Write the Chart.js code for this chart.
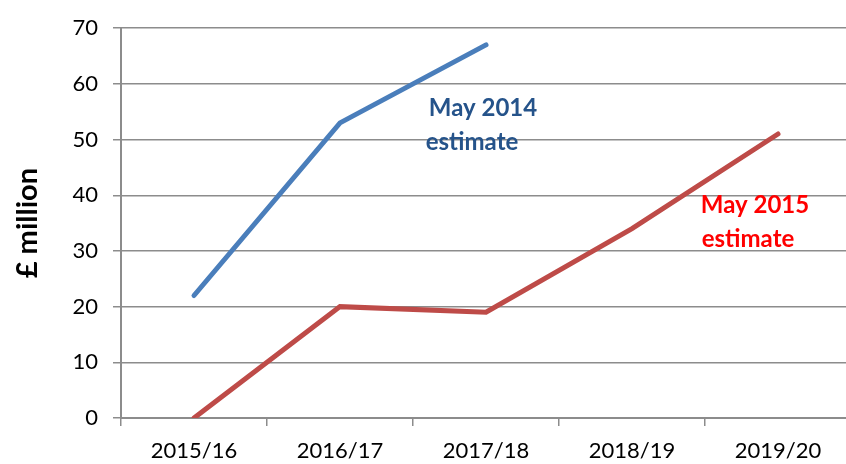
<!DOCTYPE html>
<html>
<head>
<meta charset="utf-8">
<script src="https://cdn.jsdelivr.net/npm/chart.js@4"></script>
<style>
  html, body { margin: 0; padding: 0; background: #fff; }
  #wrap { width: 846px; height: 464px; overflow: hidden; }
</style>
</head>
<body>
<div id="wrap"><canvas id="lineChart" width="851" height="464"></canvas></div>
<script>
const years = ["2015/16", "2016/17", "2017/18", "2018/19", "2019/20"];
const may2014 = [22, 53, 67, null, null];
const may2015 = [0, 20, 19, 34, 51];
const yTicks = [0, 10, 20, 30, 40, 50, 60, 70];

const FONT = "Lato, 'Open Sans', sans-serif";

/* ── series labels drawn next to the lines ── */
const seriesNotes = {
  id: "seriesNotes",
  afterDatasetsDraw(chart) {
    const { ctx, scales } = chart;
    const notes = [
      { lines: ["May 2014", "estimate"], cat: 2, dx: [-3, -14], val: 55.7, color: "#25538a" },
      { lines: ["May 2015", "estimate"], cat: 4, dx: [-23, -30], val: 38.2, color: "#ff0000" },
    ];
    ctx.save();
    ctx.font = "bold 24px " + FONT;
    ctx.textAlign = "center";
    ctx.textBaseline = "middle";
    notes.forEach((n) => {
      const x = scales.x.getPixelForValue(n.cat);
      const y = scales.y.getPixelForValue(n.val);
      ctx.fillStyle = n.color;
      n.lines.forEach((t, i) => ctx.fillText(t, x + n.dx[i], y + i * 34));
    });
    ctx.restore();
  },
};

new Chart(document.getElementById("lineChart"), {
  type: "line",
  data: {
    labels: years,
    datasets: [
      {
        label: "May 2014 estimate",
        data: may2014,
        borderColor: "#4a7ebb",
        borderWidth: 5,
        borderCapStyle: "round",
        pointRadius: 0,
        tension: 0,
      },
      {
        label: "May 2015 estimate",
        data: may2015,
        borderColor: "#be4b48",
        borderWidth: 5,
        borderCapStyle: "round",
        pointRadius: 0,
        tension: 0,
      },
    ],
  },
  options: {
    responsive: false,
    animation: false,
    layout: { padding: { top: 26, right: 0, left: 0, bottom: 0 } },
    plugins: { legend: { display: false }, tooltip: { enabled: false } },
    scales: {
      x: {
        offset: true,
        grid: {
          offset: true,
          drawOnChartArea: false,
          color: "#8c8c8c",
          lineWidth: 1.5,
          tickLength: 8,
        },
        border: { color: "#8c8c8c", width: 2 },
        ticks: { color: "#000", font: { family: FONT, size: 22 }, padding: 12, maxRotation: 0 },
        afterFit: (s) => { s.height = 46; },
      },
      y: {
        min: 0,
        max: 70,
        afterBuildTicks: (s) => { s.ticks = yTicks.map((v) => ({ value: v })); },
        grid: { color: "#8c8c8c", lineWidth: 1.5, tickLength: 8 },
        border: { color: "#8c8c8c", width: 2 },
        ticks: { color: "#000", font: { family: FONT, size: 22 }, padding: 15 },
        title: {
          display: true,
          text: "£ million",
          color: "#000",
          font: { family: FONT, size: 29, weight: "bold" },
          padding: { top: 10, bottom: 0 },
        },
        afterFit: (s) => { s.width = 121; },
      },
    },
  },
  plugins: [seriesNotes],
});
</script>
</body>
</html>
